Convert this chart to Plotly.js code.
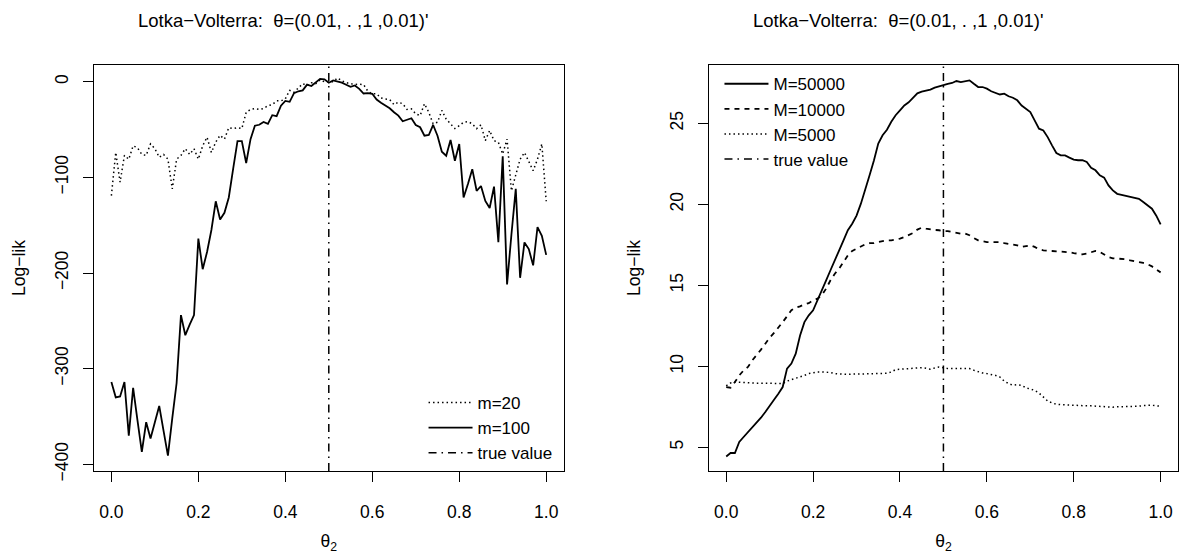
<!DOCTYPE html>
<html><head><meta charset="utf-8">
<script src="https://cdn.plot.ly/plotly-3.0.1.min.js"></script>
<style>html,body{margin:0;padding:0;background:#fff}</style>
</head><body><div id="chart" style="width:1180px;height:554px"></div>
<script>
// theta_2 grid
const theta = [0,0.01,0.02,0.03,0.04,0.05,0.06,0.07,0.08,0.09,0.1,0.11,0.12,0.13,0.14,0.15,0.16,0.17,0.18,0.19,0.2,0.21,0.22,0.23,0.24,0.25,0.26,0.27,0.28,0.29,0.3,0.31,0.32,0.33,0.34,0.35,0.36,0.37,0.38,0.39,0.4,0.41,0.42,0.43,0.44,0.45,0.46,0.47,0.48,0.49,0.5,0.51,0.52,0.53,0.54,0.55,0.56,0.57,0.58,0.59,0.6,0.61,0.62,0.63,0.64,0.65,0.66,0.67,0.68,0.69,0.7,0.71,0.72,0.73,0.74,0.75,0.76,0.77,0.78,0.79,0.8,0.81,0.82,0.83,0.84,0.85,0.86,0.87,0.88,0.89,0.9,0.91,0.92,0.93,0.94,0.95,0.96,0.97,0.98,0.99,1];

// Left panel: log-likelihood, m=20 and m=100
const ll_m20 = [-119,-74,-105,-77,-81,-67,-69,-76,-77,-65,-70,-79,-76,-81,-112,-81,-77,-70,-76,-70,-81,-67,-58,-74,-63,-56,-60,-48,-49,-48,-49,-32,-29,-28,-29,-28,-25,-24,-20,-20,-18,-9,-11,-7,-2,-4,-1,-2,2,0,0,0,4,1,-1,-2,-3,-2.5,-3,-10,-12.6,-12.6,-17,-18,-18.6,-24,-21.4,-23,-29,-28.4,-33.6,-35.4,-23,-32,-44,-42.4,-30,-39,-44,-49,-46,-42.4,-41.7,-44,-49,-45,-61.6,-51,-61.6,-63.4,-75.6,-60,-114,-97,-81,-74,-84,-93,-81,-65,-125];
const ll_m100 = [-314,-330,-329,-314,-370,-320,-354,-387,-356,-373,-356,-339,-365,-391,-352,-315,-244,-265,-254,-244,-164,-196,-178,-155,-125,-144,-137,-121,-91,-62,-62,-85,-60,-46,-45,-42,-44,-35,-36,-25,-20,-21,-12,-10,-9,-3,-4.5,-1,3,2.5,-1,1.4,0.3,-1,-3.2,-5.3,-3.9,-7.4,-12.3,-11.9,-12.6,-18.6,-22,-24.9,-27.7,-31.9,-35.4,-41.3,-39.6,-38.2,-45.2,-47.6,-56.4,-55.7,-45.2,-56.4,-73.2,-77.4,-60.9,-82.6,-65.1,-121,-107,-91.4,-114,-109,-124.6,-132,-109.6,-167.7,-78,-212,-160,-112,-205,-168,-175,-192,-152,-161,-181];

// Right panel: log-likelihood, M=50000, M=10000, M=5000
const ll_M50000 = [4.44,4.65,4.65,5.33,5.64,5.94,6.25,6.5,6.83,7.18,7.59,7.94,8.31,8.72,9.86,10.17,10.78,11.9,12.73,13.15,13.46,14.07,14.59,15.3,15.93,16.6,17.16,17.78,18.4,18.8,19.3,20.04,20.86,21.8,22.7,23.75,24.26,24.6,25.1,25.5,25.8,26.1,26.3,26.6,26.85,26.95,27.0,27.08,27.2,27.28,27.4,27.44,27.49,27.61,27.55,27.59,27.65,27.44,27.24,27.24,27.14,26.98,26.86,26.78,26.83,26.67,26.58,26.42,26.1,25.9,25.7,25.18,24.67,24.56,24.15,23.64,23.17,23.02,23.02,22.88,22.76,22.72,22.72,22.61,22.26,22.1,21.79,21.65,21.17,20.86,20.65,20.59,20.53,20.47,20.4,20.34,20.14,19.93,19.73,19.3,18.76];
const ll_M10000 = [8.72,8.68,9.03,9.44,9.75,9.96,10.37,10.68,11.03,11.4,11.77,12.06,12.43,12.73,13.09,13.46,13.62,13.7,13.83,13.9,14.07,14.18,14.38,14.8,15.31,15.72,16.03,16.4,16.85,17.12,17.26,17.4,17.53,17.6,17.6,17.67,17.73,17.78,17.78,17.82,17.88,17.98,18.09,18.23,18.44,18.56,18.5,18.44,18.42,18.4,18.35,18.35,18.29,18.23,18.19,18.19,18.09,17.92,17.78,17.72,17.67,17.67,17.69,17.67,17.6,17.57,17.53,17.47,17.37,17.43,17.47,17.37,17.22,17.16,17.12,17.12,17.1,17.08,17.08,17.04,16.99,16.96,16.91,16.96,17.06,17.12,17.06,16.9,16.75,16.67,16.65,16.63,16.61,16.54,16.5,16.44,16.38,16.3,16.17,15.97,15.8];
const ll_M5000 = [8.8,8.97,9.03,9.01,8.98,8.97,8.97,8.96,8.96,8.97,8.96,8.95,8.94,8.94,9.09,9.17,9.24,9.34,9.44,9.55,9.61,9.65,9.65,9.65,9.62,9.55,9.52,9.52,9.5,9.52,9.52,9.5,9.52,9.54,9.55,9.55,9.55,9.57,9.65,9.8,9.82,9.84,9.86,9.84,9.9,9.92,9.88,9.82,9.9,9.96,9.92,9.86,9.86,9.86,9.86,9.9,9.86,9.76,9.65,9.59,9.55,9.51,9.44,9.34,9.09,8.94,8.83,8.87,8.83,8.68,8.62,8.52,8.35,8.11,7.86,7.74,7.66,7.64,7.62,7.6,7.6,7.58,7.56,7.56,7.56,7.54,7.54,7.5,7.46,7.48,7.5,7.5,7.5,7.5,7.54,7.54,7.58,7.6,7.6,7.56,7.54];

const trueValue = 0.5;
const titleText = "Lotka\u2212Volterra:  \u03b8=(0.01, . ,1 ,0.01)'";
const xTitle = "\u03b8<sub>2</sub>";
const yTitle = "Log\u2212lik";

const xRange = [-0.04, 1.04];
const leftYRange = [-407, 17.5];
const rightYRange = [3.54, 28.6];

const FONT = "Liberation Sans, Arial, Helvetica, sans-serif";
const FS = 17.5;
const FS_TITLE = 18.5;
const FS_LEG = 17;
const DOT = "1.5px,3px";
const DASH = "5px,5px";
const DOTDASH = "8px,5px,1.5px,5px";

const traces = [
  {x: theta, y: ll_m20, name: 'm=20', mode: 'lines', line: {color: '#000', width: 1.5, dash: DOT}, xaxis: 'x', yaxis: 'y', legend: 'legend'},
  {x: theta, y: ll_m100, name: 'm=100', mode: 'lines', line: {color: '#000', width: 1.8}, xaxis: 'x', yaxis: 'y', legend: 'legend'},
  {x: [trueValue, trueValue], y: leftYRange, name: 'true value', mode: 'lines', line: {color: '#000', width: 1.5, dash: DOTDASH}, xaxis: 'x', yaxis: 'y', legend: 'legend'},
  {x: theta, y: ll_M50000, name: 'M=50000', mode: 'lines', line: {color: '#000', width: 1.8}, xaxis: 'x2', yaxis: 'y2', legend: 'legend2'},
  {x: theta, y: ll_M10000, name: 'M=10000', mode: 'lines', line: {color: '#000', width: 1.8, dash: DASH}, xaxis: 'x2', yaxis: 'y2', legend: 'legend2'},
  {x: theta, y: ll_M5000, name: 'M=5000', mode: 'lines', line: {color: '#000', width: 1.5, dash: DOT}, xaxis: 'x2', yaxis: 'y2', legend: 'legend2'},
  {x: [trueValue, trueValue], y: rightYRange, name: 'true value', mode: 'lines', line: {color: '#000', width: 1.5, dash: DOTDASH}, xaxis: 'x2', yaxis: 'y2', legend: 'legend2'}
];

const axisBase = {
  showline: true, linecolor: '#000', linewidth: 1, mirror: true,
  ticks: 'outside', ticklen: 10, tickwidth: 1, tickcolor: '#000',
  showgrid: false, zeroline: false, fixedrange: true,
  tickfont: {family: FONT, size: FS, color: '#000'}
};

const xAxisBase = Object.assign({}, axisBase, {
  range: xRange, tick0: 0, dtick: 0.2, tickformat: '.1f', ticklabelstandoff: 15,
  title: {text: xTitle, font: {family: FONT, size: FS, color: '#000'}, standoff: 24}
});
const yAxisBase = Object.assign({}, axisBase, {
  tickangle: -90, ticklabelstandoff: 8,
  title: {text: yTitle, font: {family: FONT, size: FS, color: '#000'}, standoff: 21}
});

const legendBase = {xanchor: 'left', yanchor: 'top', bgcolor: 'rgba(0,0,0,0)', borderwidth: 0,
  font: {family: FONT, size: FS_LEG, color: '#000'}, traceorder: 'normal', itemwidth: 44};

const layout = {
  width: 1180, height: 554,
  margin: {l: 94.3, r: 1.5, t: 65, b: 83, pad: 0},
  paper_bgcolor: '#fff', plot_bgcolor: '#fff',
  font: {family: FONT, size: FS, color: '#000'},
  xaxis: Object.assign({}, xAxisBase, {domain: [0, 0.4332], anchor: 'y'}),
  yaxis: Object.assign({}, yAxisBase, {domain: [0, 1], anchor: 'x', range: leftYRange, tick0: 0, dtick: 100}),
  xaxis2: Object.assign({}, xAxisBase, {domain: [0.5672, 1], anchor: 'y2'}),
  yaxis2: Object.assign({}, yAxisBase, {domain: [0, 1], anchor: 'x2', range: rightYRange, tick0: 5, dtick: 5}),
  legend: Object.assign({}, legendBase, {x: 0.304, y: 0.212}),
  legend2: Object.assign({}, legendBase, {x: 0.577, y: 0.997}),
  showlegend: true,
  annotations: [
    {text: titleText, xref: 'paper', yref: 'paper', x: 0.1745, y: 1.1108, xanchor: 'center', yanchor: 'middle', showarrow: false, font: {family: FONT, size: FS_TITLE, color: '#000'}},
    {text: titleText, xref: 'paper', yref: 'paper', x: 0.7417, y: 1.1108, xanchor: 'center', yanchor: 'middle', showarrow: false, font: {family: FONT, size: FS_TITLE, color: '#000'}}
  ]
};

Plotly.newPlot('chart', traces, layout, {displayModeBar: false, staticPlot: true});
</script>
</body></html>
